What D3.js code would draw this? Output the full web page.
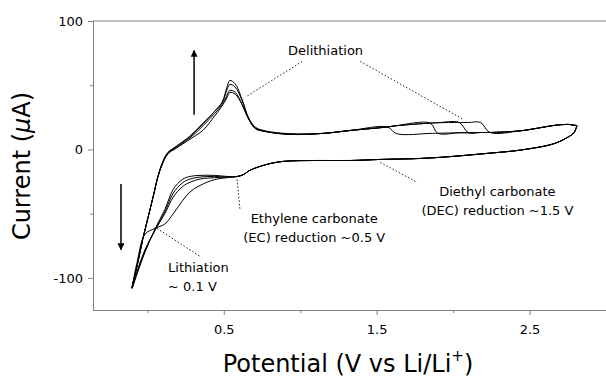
<!DOCTYPE html>
<html>
<head>
<meta charset="utf-8">
<script src="https://cdn.jsdelivr.net/npm/d3@7"></script>
<style>
  body { margin: 0; background: #fff; }
  svg { display: block; }
  text { font-family: "DejaVu Sans", sans-serif; fill: #000; }
</style>
</head>
<body>
<div id="chart"></div>
<script>
// potentials (V vs Li/Li+) of the sweep back down to the lower vertex
var cathodicV = [2.81, 2.79, 2.75, 2.66, 2.44, 2.22, 2.0, 1.79, 1.52, 1.33, 1.11, 0.89, 0.78, 0.67, 0.63, 0.59,
  0.52, 0.44, 0.345, 0.28, 0.23, 0.17, 0.115, 0.05, -0.015, -0.067, -0.10]
// potentials of the sweep back up to the upper vertex
var anodicV = [-0.10, -0.06, -0.03, 0.005, 0.04, 0.07, 0.10, 0.135, 0.19, 0.28, 0.365, 0.44, 0.49, 0.52, 0.54,
  0.575, 0.62, 0.66, 0.705, 0.77, 0.93, 1.15, 1.33, 1.57, 1.63, 1.85, 1.90, 2.04, 2.10, 2.18, 2.24, 2.44, 2.55,
  2.66, 2.75, 2.81]

// currents (uA), one row per cycle
var cathodicI = [
  [18.5, 13, 9.5, 4.5, -0.5, -3.1, -5.4, -7, -7.8, -8.6, -8.6, -9.3, -11.7, -16.3, -19.5, -21,
    -21, -20.2, -20.2, -21, -23.3, -31, -46.7, -62, -80, -97, -108],
  [18.5, 13, 9.5, 4.5, -0.5, -3.1, -5.4, -7, -7.8, -8.6, -8.6, -9.3, -11.7, -16.3, -19.5, -21,
    -21.5, -21, -21.5, -23, -26, -34, -48.5, -63, -79, -96, -108],
  [18.5, 13, 9.5, 4.5, -0.5, -3.1, -5.4, -7, -7.8, -8.6, -8.6, -9.3, -11.7, -16.3, -19.5, -21,
    -21.5, -22, -23, -25.5, -29, -37, -50, -63, -78, -95, -108],
  [18.5, 13, 9.5, 4.5, -0.5, -3.1, -5.4, -7, -7.8, -8.6, -8.6, -9.3, -11.7, -16.3, -19.5, -21,
    -22, -23.5, -28, -33, -40, -50, -58, -61.5, -66, -88, -108]
]
var anodicI = [
  [-108, -87, -70, -53, -36, -21, -10, -2.3, 2.3, 10, 20, 29.6, 37, 48, 53.7, 51, 39, 25, 16.3, 14, 11.7,
    12.5, 14.8, 17.5, 12.3, 12.5, 12.6, 13, 13, 13.2, 13.2, 14.5, 16.5, 18.7, 19.5, 18.5],
  [-108, -87, -70, -53, -36, -21, -10, -2.5, 2.5, 10.5, 20.5, 29.6, 36.5, 46, 50.6, 48.5, 38, 25, 16.5, 14, 11.7,
    12.5, 14.8, 17.5, 18.5, 20.5, 12.6, 13, 13, 13.2, 13.2, 14.5, 16.5, 18.7, 19.5, 18.5],
  [-108, -87, -70, -53, -36, -21, -11, -3, 1.5, 9, 18.5, 28, 35, 42, 46, 44.5, 35, 24, 16.8, 14.2, 12,
    12.5, 14.8, 17.5, 18.5, 20.5, 20.8, 21, 13, 13.2, 13.2, 14.5, 16.5, 18.7, 19.5, 18.5],
  [-108, -87, -70, -53, -36, -21, -11, -3.5, 1, 8, 15, 26, 34, 40, 44.4, 43, 35, 25, 17.5, 14.5, 12.3,
    12.5, 14.8, 17.5, 18.5, 20.5, 20.8, 21, 21, 21, 13.2, 14.5, 16.5, 18.7, 19.5, 18.5]
]

var xMajor = [0.5, 1.5, 2.5], xMinor = [0, 1, 2]
var yMajor = [100, 0, -100], yMinor = [50, -50]

// labels: [V, I] for text anchor, leader lines as [V1, I1, V2, I2]
var notes = [
  {lines: ["Delithiation"], at: [1.166, 73.2], anchor: "middle",
    leaders: [[1.013, 68.5, 0.647, 41.2], [1.393, 68.5, 2.068, 23.3]]},
  {lines: ["Ethylene carbonate", "(EC) reduction ~0.5 V"], at: [1.092, -57.6], anchor: "middle",
    leaders: [[0.587, -23.3, 0.607, -47.5]]},
  {lines: ["Diethyl carbonate", "(DEC) reduction ~1.5 V"], at: [2.29, -36.6], anchor: "middle",
    leaders: [[1.524, -10.1, 1.766, -25.7]]},
  {lines: ["Lithiation", "~ 0.1 V"], at: [0.136, -95.7], anchor: "start",
    leaders: [[0.064, -61.5, 0.345, -83.3]]}
]
// sweep direction arrows [V, I from, I to]
var arrows = [[0.306, 27, 77], [-0.172, -27, -78]]

var MARGIN = {TOP: 21, RIGHT: 0, BOTTOM: 67, LEFT: 93},
    WIDTH = 606 - MARGIN.LEFT - MARGIN.RIGHT,
    HEIGHT = 377 - MARGIN.TOP - MARGIN.BOTTOM

var root = d3.select("#chart").append("svg")
  .attr("width", 606)
  .attr("height", 377)

root.append("defs").append("marker")
  .attr("id", "head")
  .attr("viewBox", "0 0 10 10")
  .attr("refX", 9).attr("refY", 5)
  .attr("markerWidth", 7).attr("markerHeight", 7)
  .attr("markerUnits", "userSpaceOnUse")
  .attr("orient", "auto")
  .append("path").attr("d", "M0,0L10,5L0,10Z").attr("fill", "#000")

var svg = root.append("g")
  .attr("transform", `translate(${MARGIN.LEFT}, ${MARGIN.TOP})`)

var x = d3.scaleLinear().domain([-0.355, 3.0]).range([0, WIDTH])
var y = d3.scaleLinear().domain([-125, 100]).range([HEIGHT, 0])

// axes
svg.append("g")
  .attr("transform", `translate(0, ${HEIGHT})`)
  .call(d3.axisBottom(x).tickValues(xMajor).tickSize(5).tickSizeOuter(0).tickPadding(10).tickFormat(d3.format(".1f")))
svg.append("g")
  .attr("transform", `translate(0, ${HEIGHT})`)
  .call(d3.axisBottom(x).tickValues(xMinor).tickSize(3).tickSizeOuter(0).tickFormat(""))
svg.append("g")
  .call(d3.axisLeft(y).tickValues(yMajor).tickSize(5).tickSizeOuter(0).tickPadding(5).tickFormat(d => String(d)))
svg.append("g")
  .call(d3.axisLeft(y).tickValues(yMinor).tickSize(3).tickSizeOuter(0).tickFormat(""))
svg.append("line")
  .attr("x1", 0).attr("x2", WIDTH)
  .attr("y1", y(100)).attr("y2", y(100))
  .attr("stroke", "#808080")

svg.selectAll(".domain").attr("stroke", "#808080")
svg.selectAll(".tick line").attr("stroke", "#808080")
svg.selectAll(".tick text").style("font-size", "13px").attr("fill", "#000")

// axis titles
root.append("text")
  .attr("transform", "translate(30, 166) rotate(-90)")
  .attr("text-anchor", "middle")
  .style("font-size", "24px")
  .call(t => {
    t.append("tspan").text("Current (")
    t.append("tspan").style("font-style", "italic").text("\u03bc")
    t.append("tspan").text("A)")
  })

root.append("text")
  .attr("x", 348).attr("y", 372)
  .attr("text-anchor", "middle")
  .style("font-size", "24px")
  .call(t => {
    t.append("tspan").text("Potential (V vs Li/Li")
    t.append("tspan").attr("dy", -11).style("font-size", "15px").text("+")
    t.append("tspan").attr("dy", 11).text(")")
  })

// cycles
var line = d3.line()
  .x(d => x(d[0]))
  .y(d => y(d[1]))
  .curve(d3.curveCatmullRom.alpha(0.5))

cathodicI.forEach(function(row, k) {
  var pts = cathodicV.map((v, i) => [v, row[i]])
    .concat(anodicV.slice(1).map((v, i) => [v, anodicI[k][i + 1]]))
  svg.append("path")
    .datum(pts)
    .attr("d", line)
    .attr("fill", "none")
    .attr("stroke", "#000")
    .attr("stroke-width", 1)
})

// arrows
arrows.forEach(function(a) {
  svg.append("line")
    .attr("x1", x(a[0])).attr("x2", x(a[0]))
    .attr("y1", y(a[1])).attr("y2", y(a[2]))
    .attr("stroke", "#000")
    .attr("stroke-width", 1.5)
    .attr("marker-end", "url(#head)")
})

// annotations
notes.forEach(function(n) {
  n.leaders.forEach(function(l) {
    svg.append("line")
      .attr("x1", x(l[0])).attr("y1", y(l[1]))
      .attr("x2", x(l[2])).attr("y2", y(l[3]))
      .attr("stroke", "#222")
      .attr("stroke-width", 1)
      .attr("stroke-dasharray", "1.5,2")
  })
  var t = svg.append("text")
    .attr("x", x(n.at[0]))
    .attr("y", y(n.at[1]))
    .attr("text-anchor", n.anchor)
    .style("font-size", "13px")
  n.lines.forEach(function(s, i) {
    t.append("tspan")
      .attr("x", x(n.at[0]))
      .attr("dy", i == 0 ? 0 : 19)
      .text(s)
  })
})
</script>
</body>
</html>
